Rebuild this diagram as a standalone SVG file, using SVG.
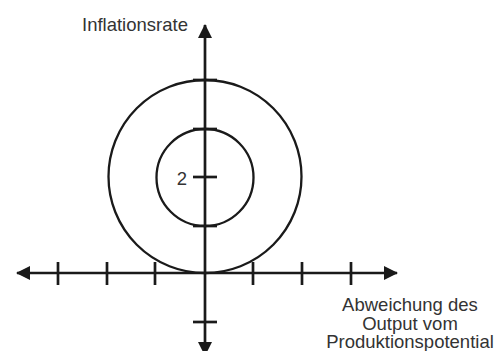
<svg xmlns="http://www.w3.org/2000/svg" width="500" height="351" viewBox="0 0 500 351">
<style>
.ax{stroke:#1a1a1a;stroke-width:2.7;fill:none}
.tk{stroke:#1a1a1a;stroke-width:2.7}
.c{stroke:#1a1a1a;stroke-width:2.3;fill:none}
.t{font-family:"Liberation Sans",Arial,sans-serif;fill:#333;font-size:18.5px}
</style>
<defs>
<marker id="ah" viewBox="0 0 14 14" refX="13" refY="7" markerWidth="14" markerHeight="14" markerUnits="userSpaceOnUse" orient="auto-start-reverse">
<path d="M0,0 L14,7 L0,14 Z" fill="#1a1a1a"/>
</marker>
</defs>
<rect width="500" height="351" fill="#fff"/>
<g id="connectors">
<line id="xaxis" class="ax" x1="17" y1="273" x2="397" y2="273" marker-start="url(#ah)" marker-end="url(#ah)"/>
<line id="yaxis" class="ax" x1="205" y1="355" x2="205" y2="25" marker-start="url(#ah)" marker-end="url(#ah)"/>
</g>
<g id="ticks">
<line class="tk" x1="58" y1="262" x2="58" y2="285"/>
<line class="tk" x1="107" y1="262" x2="107" y2="285"/>
<line class="tk" x1="155" y1="262" x2="155" y2="285"/>
<line class="tk" x1="253" y1="262" x2="253" y2="285"/>
<line class="tk" x1="302" y1="262" x2="302" y2="285"/>
<line class="tk" x1="351" y1="262" x2="351" y2="285"/>
<line class="tk" x1="193" y1="80" x2="217" y2="80"/>
<line class="tk" x1="193" y1="129" x2="217" y2="129"/>
<line class="tk" x1="193" y1="177" x2="217" y2="177"/>
<line class="tk" x1="193" y1="226" x2="217" y2="226"/>
<line class="tk" x1="193" y1="322" x2="217" y2="322"/>
</g>
<g id="outer-circle"><circle class="c" cx="205" cy="176.5" r="96.5"/></g>
<g id="inner-circle"><circle class="c" cx="205" cy="177.5" r="48.5"/></g>
<g id="labels">
<text class="t" x="82" y="31">Inflationsrate</text>
<text class="t" x="182" y="185" text-anchor="middle" font-size="17">2</text>
<text class="t" x="410" y="311" text-anchor="middle">Abweichung des</text>
<text class="t" x="410" y="329.5" text-anchor="middle">Output vom</text>
<text class="t" x="410" y="348" text-anchor="middle">Produktionspotential</text>
</g>
</svg>
